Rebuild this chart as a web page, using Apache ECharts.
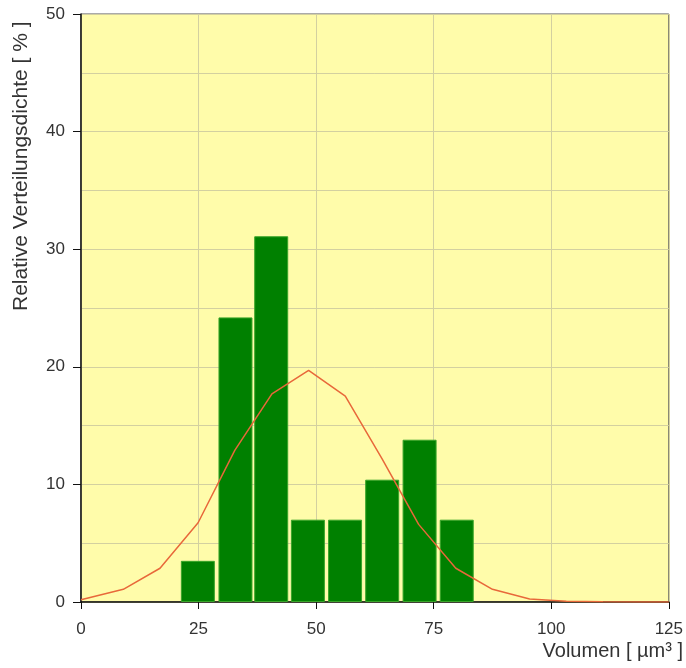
<!DOCTYPE html>
<html>
<head>
<meta charset="utf-8">
<script src="https://cdn.jsdelivr.net/npm/echarts@6/dist/echarts.min.js"></script>
<style>
  html, body { margin: 0; padding: 0; background: #fff; }
  #chart { width: 686px; height: 668px; }
</style>
</head>
<body>
<div id="chart"></div>
<script>
// Histogramm (Klassenmitte, Anteil in %)
var binCenters = [24.85, 32.85, 40.45, 48.25, 56.15, 64.05, 72.0, 79.9];
var binValues  = [3.5, 24.2, 31.1, 7.0, 7.0, 10.4, 13.8, 7.0];

// Verteilungskurve
var curveX = [0, 9.0, 16.8, 24.9, 32.7, 40.6, 48.4, 56.2, 64.0, 71.8, 79.7, 87.5, 95.4, 103.2, 111.0, 118.9, 125];
var curveY = [0.2, 1.08, 2.87, 6.74, 12.9, 17.7, 19.7, 17.5, 12.2, 6.6, 2.87, 1.08, 0.25, 0.06, 0.02, 0, 0];

var xTicks = [0, 25, 50, 75, 100, 125];
var yTicks = [0, 10, 20, 30, 40, 50];

var font = 'Liberation Sans, Arial, sans-serif';

var chart = echarts.init(document.getElementById('chart'));
chart.setOption({
    backgroundColor: '#fff',
    animation: false,
    grid: {
        left: 81, top: 14, right: 17, bottom: 66,
        show: true,
        backgroundColor: '#fffcaa',
        borderColor: '#555',
        borderWidth: 1
    },
    xAxis: {
        type: 'value',
        min: xTicks[0],
        max: xTicks[xTicks.length - 1],
        interval: 25,
        axisLine: { lineStyle: { color: '#111', width: 1.5 } },
        axisTick: { show: true, length: 7, lineStyle: { color: '#111' } },
        axisLabel: { color: '#333', fontSize: 17, fontFamily: font, margin: 19 },
        splitLine: { show: true, lineStyle: { color: '#d3d0a0', width: 1 } }
    },
    yAxis: {
        type: 'value',
        min: yTicks[0],
        max: yTicks[yTicks.length - 1],
        interval: 10,
        axisLine: { show: true, lineStyle: { color: '#111', width: 1.5 } },
        axisTick: { show: true, length: 8, lineStyle: { color: '#111' } },
        axisLabel: { color: '#333', fontSize: 17, fontFamily: font, margin: 16 },
        splitLine: { show: true, lineStyle: { color: '#d3d0a0', width: 1 } },
        minorTick: { show: false, splitNumber: 2 },
        minorSplitLine: { show: true, lineStyle: { color: '#d3d0a0', width: 1 } }
    },
    graphic: [
        {
            type: 'text',
            x: 11, y: 311,
            rotation: Math.PI / 2,
            style: {
                text: 'Relative Verteilungsdichte [ % ]',
                font: '21px ' + font,
                fill: '#333',
                textAlign: 'left',
                textVerticalAlign: 'top'
            }
        },
        {
            type: 'text',
            x: 683, y: 641,
            style: {
                text: 'Volumen [ µm³ ]',
                font: '20px ' + font,
                fill: '#333',
                textAlign: 'right',
                textVerticalAlign: 'top'
            }
        }
    ],
    series: [
        {
            type: 'bar',
            barWidth: 34,
            itemStyle: { color: '#008000', borderColor: '#3aa52a', borderWidth: 1 },
            data: binCenters.map(function (x, i) { return [x, binValues[i]]; })
        },
        {
            type: 'line',
            showSymbol: false,
            smooth: false,
            lineStyle: { color: '#e8683a', width: 1.5 },
            data: curveX.map(function (x, i) { return [x, curveY[i]]; })
        }
    ]
});
</script>
</body>
</html>
